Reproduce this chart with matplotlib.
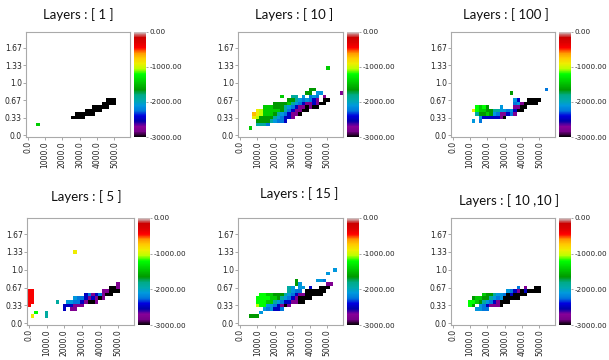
import numpy as np
import matplotlib
matplotlib.use('Agg')
import matplotlib.pyplot as plt

W, H = 609, 360

# colour code -> value used in the cell rows below
levels = {'k': -3000, 'p': -2760, 'B': -2480, 'b': -2250, 'c': -2100,
          't': -1900, 'G': -1650, 'g': -1420, 'l': -1200, 'Y': -1050,
          'y': -900, 'o': -700, 'r': -430}

titles = ['Layers : [ 1 ]', 'Layers : [ 10 ]', 'Layers : [ 100 ]',
          'Layers : [ 5 ]', 'Layers : [ 15 ]', 'Layers : [ 10 ,10 ]']

x_ticks = [0, 1000, 2000, 3000, 4000, 5000]
x_labels = ['0.0', '1000.0', '2000.0', '3000.0', '4000.0', '5000.0']
y_ticks = [0, 1/3, 2/3, 1, 4/3, 5/3]
y_labels = ['0.0', '0.33', '0.67', '1.0', '1.33', '1.67']
cbar_ticks = [0, -1000, -2000, -3000]

x_step = 200
y_step = 1/15
n_cols = 30
n_rows = 30

# (row, first column, codes), '.' = empty cell
cells_1 = [(3, 3, "g"),
           (5, 13, "kkkk"),
           (6, 14, "kkkkkk"),
           (7, 17, "kkkkk"),
           (8, 19, "kkkkk"),
           (9, 22, "kkkk"),
           (10, 23, "kkk")]

cells_10 = [(19, 25, "g"),
            (13, 20, "GG"),
            (12, 19, "GG.cc.....p"),
            (11, 12, "g..tt.c.bcb.p"),
            (10, 14, "GGtcbcbBp.kk"),
            (9, 10, "GGGGgtcbBppBpkk"),
            (8, 7, "gggGGGtcbBppkpkk"),
            (7, 5, "yYgggggGtbBppkk"),
            (6, 4, "oyYgggGtcbBppk"),
            (5, 4, "yYGGGGtcbBBp"),
            (4, 5, "GGGGtcbbB"),
            (3, 5, "tttb"),
            (2, 3, "g")]

cells_100 = [(13, 27, "b"),
             (12, 17, "G"),
             (10, 18, "cB..kkkk"),
             (9, 18, "bcpkkkk"),
             (8, 7, "lglG...c...ppkk"),
             (7, 6, "ylggGGttccbcBkk"),
             (6, 7, "tGGgGcbppBbp"),
             (5, 8, "cBBBBBpk"),
             (4, 6, "c.b")]

cells_5 = [(20, 13, "y"),
           (11, 25, "p"),
           (10, 23, "kkp"),
           (9, 0, "rr"), (9, 21, "ppkkk"),
           (8, 0, "rr"), (8, 16, "BbpBbpkk"),
           (7, 0, "rr"), (7, 13, "cbbBpBpkp"),
           (6, 0, "rr"), (6, 8, "t"), (6, 11, "ccbbBpkkp"),
           (5, 0, "r"), (5, 10, "BBBppp"),
           (4, 10, "B.pp"),
           (3, 2, "l"), (3, 5, "t"),
           (2, 1, "y"), (2, 5, "t")]

cells_15 = [(15, 27, "c"),
            (14, 25, "c"),
            (12, 16, "G"), (12, 22, "ccb"),
            (11, 16, "Gc"), (11, 25, "pp"),
            (10, 14, "tc.cc.B..kkk"),
            (9, 14, "tcbb.kkkkkk"),
            (8, 6, "llggGGGtcbBppkkkkk"),
            (7, 5, "llllggGtcbBpkkkk"),
            (6, 5, "lllggtcbBBppkk"),
            (5, 5, "YllccbBpkp"),
            (4, 7, "cbcBBb"),
            (3, 6, "c"),
            (2, 3, "GGG")]

cells_10_10 = [(10, 19, "b.p..kk"),
               (9, 16, "cbBpkBkkkk"),
               (8, 9, "gGGtccbkBkkkk"),
               (7, 6, "GggGGtcbckkkkk"),
               (6, 5, "llgGtcbBpkkk"),
               (5, 5, "lG.cbBpppk"),
               (4, 7, "ccbb")]

panels = [cells_1, cells_10, cells_100, cells_5, cells_15, cells_10_10]

# layout in pixels: axes (left, top, width, height), title centre
axes_px = [(26, 32, 104, 105), (238, 32, 105, 105), (451, 32, 104, 105),
           (27, 218, 107, 107), (238, 218, 105, 107), (451, 218, 104, 107)]
title_px = [(78, 15), (294, 15), (506, 15), (86, 197), (299, 194), (509, 201)]


def make_grid(cells):
    g = np.full((n_rows, n_cols), np.nan)
    for row, col, codes in cells:
        for i, ch in enumerate(codes):
            if ch != '.':
                g[row, col + i] = levels[ch]
    return g


def frac(l, t, w, h):
    return [l / W, 1 - (t + h) / H, w / W, h / H]


fig = plt.figure(figsize=(W / 100, H / 100), dpi=100)
extent = [-x_step / 2, n_cols * x_step - x_step / 2,
          -y_step / 2, n_rows * y_step - y_step / 2]

for cells, title, (l, t, w, h), (tx, ty) in zip(panels, titles, axes_px, title_px):
    ax = fig.add_axes(frac(l, t, w, h))
    im = ax.imshow(make_grid(cells), origin='lower', extent=extent, aspect='auto',
                   cmap='nipy_spectral', vmin=-3000, vmax=0, interpolation='nearest')
    ax.set_xticks(x_ticks)
    ax.set_xticklabels(x_labels, rotation=90)
    ax.set_yticks(y_ticks)
    ax.set_yticklabels(y_labels)
    ax.tick_params(labelsize=5.5, length=2, width=0.6, pad=1,
                   colors='#999999', labelcolor='#222222')
    for s in ax.spines.values():
        s.set_color('#aaaaaa')
        s.set_linewidth(0.8)

    cax = fig.add_axes(frac(l + w + 4, t, 12, h))
    cb = fig.colorbar(im, cax=cax, ticks=cbar_ticks, format='%.2f')
    cb.outline.set_visible(False)
    cax.tick_params(labelsize=5.2, length=1.5, width=0.6, pad=0.8,
                    colors='#999999', labelcolor='#222222')

    fig.text(tx / W, 1 - ty / H, title, ha='center', va='center',
             fontsize=9.5, family='Lato', color='#111111')

fig.savefig('out.png', dpi=100)
